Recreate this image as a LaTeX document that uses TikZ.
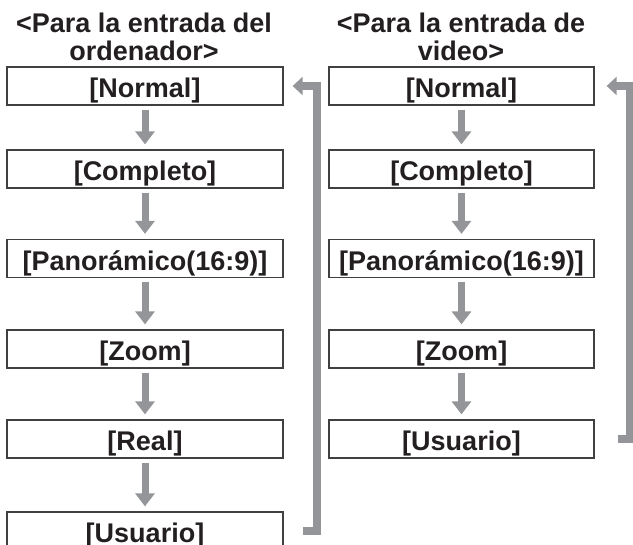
\documentclass[tikz,border=0pt]{standalone}
\usepackage{fontspec}
\setmainfont{Liberation Sans}
\usetikzlibrary{arrows.meta}
\definecolor{txtc}{HTML}{231F20}
\definecolor{boxc}{HTML}{404040}
\definecolor{arrc}{HTML}{939598}
\tikzset{
  modebox/.style={draw=boxc, line width=1.3pt, inner sep=0pt, minimum height=38pt,
    text height=24pt, text depth=0pt, text=txtc,
    font=\bfseries\fontsize{27}{28}\selectfont},
  leftbox/.style={modebox, minimum width=276pt},
  rightbox/.style={modebox, minimum width=265pt},
  titletext/.style={align=center, inner sep=0pt, anchor=base, text=txtc,
    font=\bfseries\fontsize{27}{27.5}\selectfont},
  downarrow/.style={draw=arrc, line width=7pt, -{Triangle[length=13pt,width=19pt]}},
  retarrow/.style={draw=arrc, line width=7.5pt, line join=miter, line cap=butt,
    -{Triangle[length=10pt,width=18pt]}}
}
\begin{document}
\begin{tikzpicture}[x=1pt,y=-1pt]
\useasboundingbox (0,0) rectangle (633,545);
% titles
\node[titletext] (tl) at (144,60.5) {<Para la entrada del\\ordenador>};
\node[titletext] (tr) at (461,60.5) {<Para la entrada de\\video>};
% left column
\node[leftbox] (l1) at (145,86)    {[Normal]};
\node[leftbox] (l2) at (145,169)   {[Completo]};
\node[leftbox] (l3) at (145,258.5) {[Panorámico(16:9)]};
\node[leftbox] (l4) at (145,349)   {[Zoom]};
\node[leftbox] (l5) at (145,439)   {[Real]};
\node[leftbox] (l6) at (145,531)   {[Usuario]};
% right column
\node[rightbox] (r1) at (461.5,86)    {[Normal]};
\node[rightbox] (r2) at (461.5,169)   {[Completo]};
\node[rightbox] (r3) at (461.5,258.5) {[Panorámico(16:9)]};
\node[rightbox] (r4) at (461.5,349)   {[Zoom]};
\node[rightbox] (r5) at (461.5,439)   {[Usuario]};
% down arrows
\foreach \a/\b in {l1/l2,l2/l3,l3/l4,l4/l5,l5/l6,r1/r2,r2/r3,r3/r4,r4/r5}{
  \draw[downarrow] ([yshift=-4pt]\a.south) -- ([yshift=5pt]\b.north);
}
% return arrows
\draw[retarrow] ([xshift=19pt]l6.east) -- ++(14.5,0) |- ([xshift=9pt]l1.east);
\draw[retarrow] ([xshift=23pt]r5.east) -- ++(12,0) |- ([xshift=12pt]r1.east);
\end{tikzpicture}
\end{document}
